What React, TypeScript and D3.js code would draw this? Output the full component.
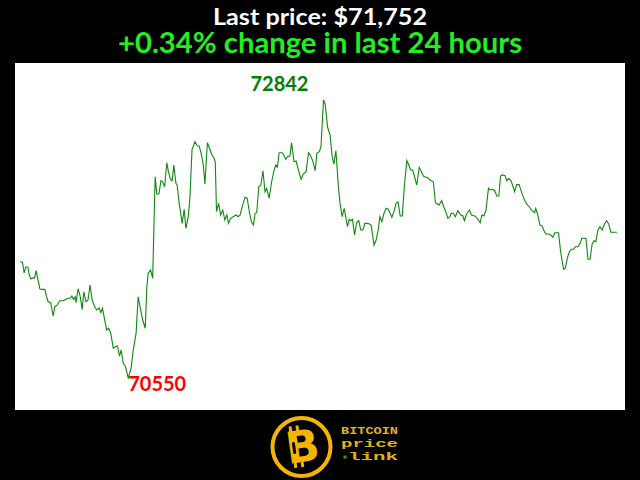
import React from "react";
import * as d3 from "d3";

// minutes since start of the 24h window
const minutes: number[] = [
  0, 6, 10, 14, 19, 22, 26, 32, 35, 39, 43, 48, 54, 60, 64, 68, 74, 80, 84, 90,
  96, 104, 111, 116, 121, 125, 129, 133, 135, 140, 145, 150, 154, 159, 164, 169, 174, 180, 185, 191,
  195, 199, 204, 209, 214, 219, 225, 230, 235, 240, 244, 249, 254, 261, 268, 273, 280, 285, 291, 296,
  302, 306, 309, 315, 320, 326, 330, 335, 340, 344, 349, 354, 358, 363, 367, 371, 376, 379, 384, 391,
  396, 400, 406, 410, 415, 422, 428, 432, 437, 442, 446, 452, 457, 462, 468, 471, 474, 479, 484, 489,
  494, 499, 503, 508, 514, 521, 526, 531, 537, 543, 548, 553, 558, 563, 567, 571, 576, 581, 586, 591,
  595, 601, 607, 613, 617, 621, 625, 632, 635, 641, 645, 651, 655, 661, 666, 671, 678, 683, 690, 696,
  701, 706, 712, 716, 722, 726, 732, 736, 742, 748, 753, 757, 762, 768, 772, 777, 782, 787, 790, 794,
  798, 802, 807, 812, 817, 822, 827, 832, 837, 843, 847, 854, 859, 864, 868, 873, 878, 883, 888, 892,
  897, 902, 907, 912, 917, 922, 927, 933, 938, 942, 947, 952, 957, 963, 968, 973, 978, 982, 987, 992,
  997, 1002, 1007, 1011, 1017, 1022, 1027, 1032, 1037, 1040, 1045, 1050, 1056, 1063, 1068, 1072, 1077, 1084, 1089, 1097,
  1103, 1110, 1114, 1119, 1124, 1130, 1134, 1140, 1145, 1150, 1155, 1159, 1164, 1170, 1174, 1179, 1184, 1188, 1193, 1198,
  1204, 1210, 1216, 1222, 1228, 1235, 1241, 1244, 1249, 1254, 1259, 1264, 1268, 1275, 1280, 1285, 1290, 1295, 1299, 1304,
  1311, 1315, 1320, 1325, 1330, 1335, 1340, 1346, 1351, 1355, 1360, 1365, 1370, 1375, 1380, 1385, 1389, 1394, 1399, 1404,
  1410, 1415, 1420, 1425, 1433, 1440,
];

// BTC price in USD
const prices: number[] = [
  71509, 71504, 71416, 71465, 71465, 71407, 71366, 71377, 71374, 71435, 71366, 71284, 71281, 71281, 71220, 71179, 71171, 71061, 71138, 71152,
  71187, 71187, 71199, 71207, 71207, 71226, 71199, 71220, 71171, 71286, 71226, 71116, 71261, 71179, 71193, 71317, 71193, 71138, 71111, 71127,
  71088, 71125, 71034, 70946, 70960, 70918, 70795, 70808, 70814, 70731, 70781, 70671, 70649, 70550, 70630, 70781, 70918, 71220, 71111, 71028,
  70960, 71303, 71413, 71440, 71372, 72210, 72067, 72067, 72177, 72168, 72127, 72325, 72251, 72188, 72177, 72306, 72155, 72141, 71990, 71825,
  71941, 71784, 71880, 72045, 72436, 72498, 72463, 72463, 72403, 72306, 72149, 72490, 72444, 72397, 72361, 72333, 71921, 71990, 71894, 71935,
  71853, 71894, 71825, 71867, 71880, 71894, 71880, 71894, 71976, 72040, 72032, 71921, 71839, 71811, 71908, 71913, 72127, 72141, 72259, 72086,
  72114, 72032, 72168, 72265, 72306, 72287, 72407, 72407, 72397, 72353, 72375, 72380, 72490, 72333, 72339, 72271, 72188, 72232, 72251, 72407,
  72383, 72342, 72259, 72403, 72416, 72457, 72842, 72809, 72617, 72553, 72375, 72314, 72424, 72127, 71990, 71880, 71949, 71853, 71797, 71858,
  71847, 71858, 71729, 71830, 71847, 71770, 71770, 71825, 71825, 71820, 71811, 71646, 71688, 71770, 71880, 71839, 71908, 71949, 71941, 71913,
  71875, 71921, 71990, 72001, 71886, 71886, 72127, 72342, 72306, 72265, 72265, 72205, 72141, 72287, 72251, 72215, 72205, 72205, 72188, 72177,
  72168, 71995, 71985, 71976, 72012, 71962, 71921, 71867, 71880, 71908, 71908, 71880, 71929, 71894, 71888, 71847, 71902, 71935, 71894, 71886,
  71867, 71830, 71894, 71886, 71935, 72114, 72100, 72106, 72094, 72051, 72051, 72215, 72224, 72218, 72177, 72196, 72177, 72141, 72086, 72144,
  72144, 72078, 72023, 71985, 71962, 71929, 71913, 71949, 71894, 71811, 71803, 71764, 71737, 71737, 71729, 71710, 71748, 71748, 71748, 71591,
  71446, 71454, 71537, 71591, 71611, 71611, 71632, 71632, 71660, 71702, 71702, 71702, 71529, 71529, 71655, 71682, 71674, 71770, 71797, 71770,
  71820, 71847, 71820, 71752, 71752, 71752,
];

const titleLines: string[] = ["Last price: $71,752", "+0.34% change in last 24 hours"];
const logoWords: string[] = ["BITCOIN", "price", "link"];

export default function App() {
  const W = 640;
  const H = 480;
  const plot = { x0: 15, y0: 63, x1: 625, y1: 410 };

  const x = d3.scaleLinear().domain([0, 1440]).range([20, 617]);
  const minP = d3.min(prices) as number;
  const maxP = d3.max(prices) as number;
  const y = d3.scaleLinear().domain([minP, maxP]).range([378, 100]);

  const pts = minutes.map((m, i) => [m, prices[i]] as [number, number]);
  const line = d3
    .line<[number, number]>()
    .x((d) => x(d[0]))
    .y((d) => y(d[1]));

  const iMax = prices.indexOf(maxP);
  const iMin = prices.indexOf(minP);

  const font = "Lato, 'Open Sans', sans-serif";
  const gold = "#f4b400";
  const logoText = "#e2b01c";

  return (
    <div style={{ position: "fixed", left: 0, top: 0, width: W, height: H, background: "#000" }}>
      <svg width={W} height={H} style={{ display: "block" }}>
        <rect x={0} y={0} width={W} height={H} fill="#000" />
        <text
          x={320}
          y={25}
          textAnchor="middle"
          fill="#ffffff"
          fontFamily={font}
          fontWeight="bold"
          fontSize={23}
          textLength={214}
          lengthAdjust="spacingAndGlyphs"
        >
          {titleLines[0]}
        </text>
        <text
          x={320}
          y={53}
          textAnchor="middle"
          fill="#22ee22"
          fontFamily={font}
          fontWeight="bold"
          fontSize={28.5}
          textLength={404}
          lengthAdjust="spacingAndGlyphs"
        >
          {titleLines[1]}
        </text>

        <rect x={plot.x0} y={plot.y0} width={plot.x1 - plot.x0} height={plot.y1 - plot.y0} fill="#ffffff" />
        <path d={line(pts) || ""} fill="none" stroke="#0f880f" strokeWidth={1.1} />

        <text
          x={x(minutes[iMax]) - 15}
          y={y(maxP) - 9}
          textAnchor="end"
          fill="#008000"
          fontFamily={font}
          fontWeight="bold"
          fontSize={20}
        >
          {maxP}
        </text>
        <text
          x={x(minutes[iMin])}
          y={y(minP) + 13}
          textAnchor="start"
          fill="#ff0000"
          fontFamily={font}
          fontWeight="bold"
          fontSize={20}
        >
          {minP}
        </text>

        {/* logo */}
        <g transform="translate(301.5,447)">
          <circle r={29} fill="#000" stroke={gold} strokeWidth={4} />
          <g transform="rotate(-8)">
            <text
              x={1}
              y={15}
              textAnchor="middle"
              fill={gold}
              fontFamily="'DejaVu Sans', sans-serif"
              fontWeight="bold"
              fontSize={44}
            >
              B
            </text>
            <rect x={-10} y={-22} width={3} height={6} fill={gold} />
            <rect x={-3} y={-22} width={3} height={6} fill={gold} />
            <rect x={-10} y={15} width={3} height={5} fill={gold} />
            <rect x={-3} y={15} width={3} height={5} fill={gold} />
            <rect x={-9} y={-6} width={3} height={12} rx={1.5} fill="#000" />
          </g>
        </g>
        <g fontFamily="'Liberation Mono', 'DejaVu Sans Mono', monospace" fontWeight="bold" fontSize={11.5} fill={logoText}>
          <text x={341} y={433.5} textLength={57} lengthAdjust="spacingAndGlyphs">{logoWords[0]}</text>
          <text x={341} y={446.5} textLength={57} lengthAdjust="spacingAndGlyphs">{logoWords[1]}</text>
          <rect x={343.5} y={455.5} width={3} height={3} fill="#22aa22" />
          <text x={348} y={459.5} textLength={50} lengthAdjust="spacingAndGlyphs">{logoWords[2]}</text>
        </g>
      </svg>
    </div>
  );
}
